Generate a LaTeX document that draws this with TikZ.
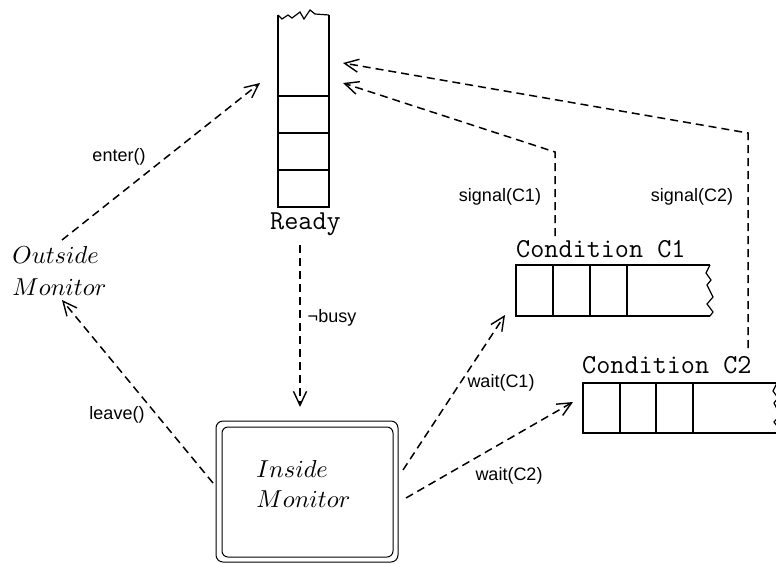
\documentclass[tikz,border=0pt]{standalone}
\usepackage{fontspec}
\newfontfamily\lblfont{Liberation Sans}
\usetikzlibrary{arrows.meta}
\tikzset{
  conn/.style={line width=1.5pt, dash pattern=on 8pt off 5pt,
    -{Straight Barb[length=14pt,width=13pt,line width=1.4pt]}},
  lbl/.style={font=\lblfont\fontsize{18}{20}\selectfont, inner sep=0pt},
  code/.style={font=\ttfamily\fontsize{27.4}{30}\selectfont, inner sep=0pt, anchor=base west},
  ital/.style={font=\fontsize{10}{12}\selectfont, scale=2.45, inner sep=0pt, anchor=base west},
  shp/.style={line width=1.2pt},
}
\begin{document}
\begin{tikzpicture}[x=1pt,y=-1pt]
\useasboundingbox (0,0) rectangle (776,563);
% Ready queue
\draw[shp] (278,15) -- (278,207) -- (329,207) -- (329,15);
\draw[shp] (278,15) -- (282,19) -- (288,15) -- (292,18) -- (300,12) -- (304,19) -- (310,10) -- (315,14) -- (329,15);
\foreach \yy in {96,133,170} \draw[shp] (278,\yy) -- (329,\yy);
\node[code] (ready) at (270,229) {Ready};
% Condition C1 queue
\draw[shp] (710,265) -- (516,265) -- (516,316) -- (710,316);
\draw[shp] (710,265) -- (706,273) -- (711,280) -- (707,285) -- (713,297) -- (707,304) -- (713,312) -- (710,316);
\foreach \xx in {553,590,627} \draw[shp] (\xx,265) -- (\xx,316);
\node[code] (c1) at (516,257) {Condition C1};
% Condition C2 queue
\draw[shp] (777,383) -- (583,383) -- (583,433) -- (777,433);
\draw[shp] (777,383) -- (773,391) -- (778,398) -- (774,403) -- (780,415) -- (774,422) -- (780,430) -- (777,433);
\foreach \xx in {620,656,693} \draw[shp] (\xx,383) -- (\xx,433);
\node[code] (c2) at (582,373) {Condition C2};
% Inside monitor
\draw[line width=1pt, rounded corners=7pt] (216,421) rectangle (398,562);
\draw[line width=1pt, rounded corners=6pt] (222,427) rectangle (393,557);
\node[ital] (in1) at (256,477) {$Inside$};
\node[ital] (in2) at (256,507) {$Monitor$};
% Outside monitor
\node[ital] (out1) at (12,263) {$Outside$};
\node[ital] (out2) at (12,295) {$Monitor$};
% connector end points
\coordinate (enterS) at (62,240);
\coordinate (enterE) at (260,83);
\coordinate (leaveS) at (213,483);
\coordinate (leaveE) at (62,300);
\coordinate (busyS) at (300,245);
\coordinate (busyE) at (300,407);
\coordinate (s1S) at (555,236);
\coordinate (s1K) at (555,152);
\coordinate (s1E) at (343,83);
\coordinate (s2S) at (748,348);
\coordinate (s2K) at (748,133);
\coordinate (s2E) at (343,63);
\coordinate (w1S) at (403,470);
\coordinate (w1E) at (505,315);
\coordinate (w2S) at (406,498);
\coordinate (w2E) at (573,402);
% connectors
\draw[conn] (enterS) -- (enterE);
\draw[conn] (leaveS) -- (leaveE);
\draw[conn] (busyS) -- (busyE);
\draw[conn] (s1S) -- (s1K) -- (s1E);
\draw[conn] (s2S) -- (s2K) -- (s2E);
\draw[conn] (w1S) -- (w1E);
\draw[conn] (w2S) -- (w2E);
% labels
\node[lbl] (lenter) at (119,157) {enter()};
\node[lbl] (lleave) at (117,415) {leave()};
\node[lbl] (lbusy) at (332,318) {¬busy};
\node[lbl] (lsig1) at (500,197) {signal(C1)};
\node[lbl] (lsig2) at (692,197) {signal(C2)};
\node[lbl] (lwait1) at (501,383) {wait(C1)};
\node[lbl] (lwait2) at (509,476) {wait(C2)};
\end{tikzpicture}
\end{document}
